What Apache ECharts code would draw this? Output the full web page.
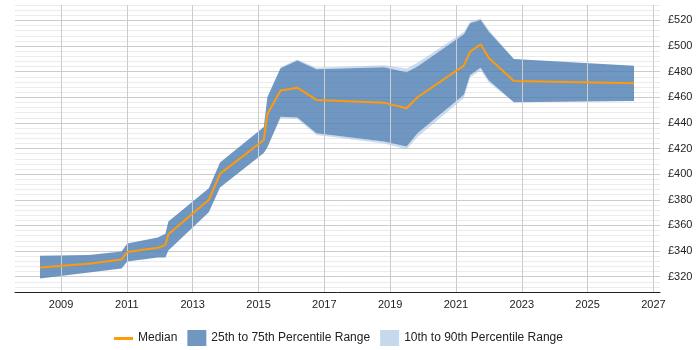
<!DOCTYPE html>
<html>
<head>
<meta charset="utf-8">
<script src="https://cdn.jsdelivr.net/npm/echarts@6/dist/echarts.min.js"></script>
<style>
  html, body { margin: 0; padding: 0; background: #fff; }
  #chart { width: 700px; height: 350px; }
</style>
</head>
<body>
<div id="chart"></div>
<script>
// Data (x = decimal year, values in £)
var years = [2008.36, 2009.85, 2010.84, 2011.01, 2011.94, 2012.17, 2012.26, 2013.49, 2013.83, 2015.16,
  2015.27, 2015.67, 2016.18, 2016.76, 2018.81, 2019.50, 2019.83, 2021.24, 2021.43, 2021.75,
  2022.00, 2022.76, 2026.41];
var median = [327.2, 330.1, 333.4, 339.2, 342.5, 344.6, 353.0, 380.0, 400.2, 426.7,
  447.0, 465.2, 467.5, 457.9, 455.8, 451.4, 460.0, 484.7, 495.6, 501.3,
  490.6, 472.7, 471.0];
var p25 = [318.6, 323.3, 326.4, 331.8, 335.0, 335.0, 340.3, 370.3, 389.5, 416.4,
  421.0, 444.7, 444.2, 431.9, 425.4, 421.5, 431.9, 462.0, 477.4, 483.0,
  473.0, 456.1, 457.1];
var p75 = [336.3, 336.8, 339.7, 345.9, 350.6, 353.5, 363.0, 389.0, 409.0, 436.8,
  460.2, 482.6, 488.6, 481.9, 483.4, 479.5, 484.0, 509.1, 517.7, 520.3,
  511.2, 489.9, 484.6];
var p10 = [318.6, 323.3, 326.4, 331.8, 335.0, 335.0, 340.3, 370.3, 389.5, 416.4,
  421.0, 443.5, 443.0, 430.5, 424.0, 419.5, 429.0, 459.5, 475.5, 481.0,
  471.5, 456.1, 457.1];
var p90 = [336.3, 336.8, 339.7, 345.9, 350.6, 353.5, 363.0, 389.0, 409.0, 436.8,
  460.2, 483.5, 489.5, 483.0, 485.0, 482.5, 487.0, 511.0, 519.0, 521.5,
  512.5, 489.9, 484.6];
// labelled years on the x axis (vertical grid lines)
var tickYears = [2009, 2011, 2013, 2015, 2017, 2019, 2021, 2023, 2025, 2027];

var chart = echarts.init(document.getElementById("chart"));

function pairs(ys) {
  return years.map(function (x, i) { return [x, ys[i]]; });
}

function polygon(api, lo, hi, color) {
  var pts = [];
  for (var i = 0; i < years.length; i++) pts.push(api.coord([years[i], hi[i]]));
  for (var j = years.length - 1; j >= 0; j--) pts.push(api.coord([years[j], lo[j]]));
  return { type: "polygon", shape: { points: pts }, style: { fill: color } };
}

// filled band(s) between percentile lines, drawn via the axes' scales
function band(name, strips, color, legendColor) {
  return {
    name: name,
    type: "custom",
    coordinateSystem: "cartesian2d",
    silent: true,
    z: 3,
    itemStyle: { color: legendColor },
    encode: { x: 0, y: 1 },
    data: [[years[0], strips[0][0][0]]],
    renderItem: function (params, api) {
      return {
        type: "group",
        children: strips.map(function (s) { return polygon(api, s[0], s[1], color); }),
      };
    },
  };
}

// every 4th of 5 y split lines is a major (£20) line
var yLineColors = ["#ebebeb", "#ebebeb", "#ebebeb", "#cccccc", "#ebebeb"];

var option = {
  animation: false,
  textStyle: { fontFamily: "Liberation Sans, Arial, sans-serif" },
  grid: { left: 15, right: 40, top: 5, bottom: 58 },
  xAxis: {
    type: "value",
    min: 2007.6,
    max: 2027.2,
    interval: 0.2,
    axisLine: { show: true, lineStyle: { color: "#222", width: 1 } },
    axisTick: { show: false },
    axisLabel: {
      color: "#222",
      fontSize: 11,
      margin: 7,
      formatter: function (v) {
        var r = Math.round(v);
        return Math.abs(v - r) < 1e-6 && tickYears.indexOf(r) >= 0 ? String(r) : "";
      },
    },
    splitLine: { show: false },
  },
  yAxis: {
    type: "value",
    position: "right",
    min: 308,
    max: 532,
    interval: 4,
    axisLine: { show: false },
    axisTick: { show: false },
    axisLabel: {
      color: "#222",
      fontSize: 11,
      margin: 8,
      formatter: function (v) {
        return Math.round(v) % 20 === 0 ? "£" + Math.round(v) : "";
      },
    },
    splitLine: { show: true, lineStyle: { color: yLineColors, width: 1 } },
  },
  legend: {
    top: 325,
    left: 109,
    itemWidth: 19,
    itemHeight: 16,
    itemGap: 10,
    textStyle: { fontSize: 12, color: "#222" },
    data: [
      { name: "Median", icon: "path://M0,0M0,7L19,7L19,10L0,10ZM19,16" },
      { name: "25th to 75th Percentile Range", icon: "rect" },
      { name: "10th to 90th Percentile Range", icon: "rect" },
    ],
  },
  series: [
    {
      // vertical grid lines at the labelled years, under the bands
      name: "grid",
      type: "line",
      data: [],
      z: 1,
      markLine: {
        silent: true,
        symbol: "none",
        label: { show: false },
        lineStyle: { color: "#cccccc", width: 1, type: "solid" },
        data: tickYears.map(function (y) { return { xAxis: y }; }),
      },
    },
    band("10th to 90th Percentile Range", [[p75, p90], [p10, p25]], "rgba(160,192,226,0.55)", "#c6d9ec"),
    band("25th to 75th Percentile Range", [[p25, p75]], "rgba(76,125,178,0.8)", "#7097c1"),
    {
      name: "Median",
      type: "line",
      data: pairs(median),
      symbol: "none",
      z: 5,
      lineStyle: { color: "#ff9a0a", width: 2 },
      itemStyle: { color: "#ff9a0a" },
    },
  ],
};
chart.setOption(option);
</script>
</body>
</html>
